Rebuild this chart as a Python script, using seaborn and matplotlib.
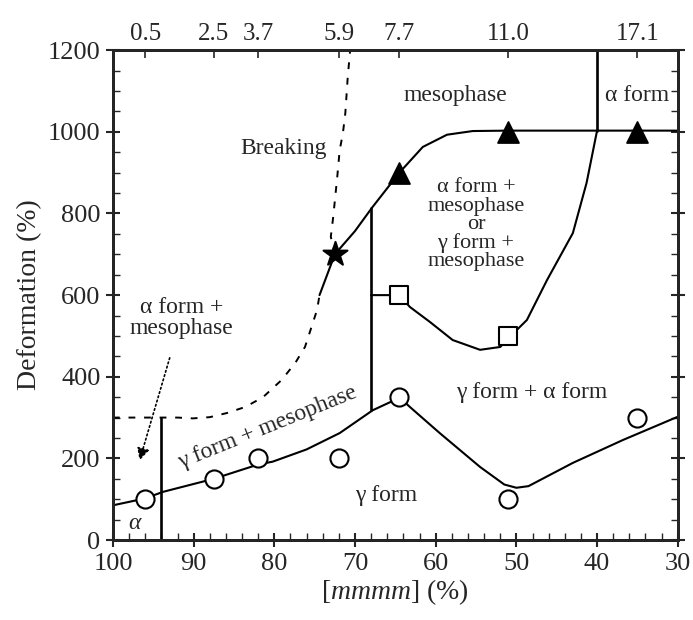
import matplotlib
matplotlib.use("Agg")
import matplotlib.pyplot as plt
import seaborn as sns
import numpy as np

# ---- data ----
# open circles (gamma-form boundary data)
circle_x = [96, 87.5, 82, 72, 64.5, 51, 35]
circle_y = [100, 150, 200, 200, 350, 100, 300]
# filled triangles (breaking / mesophase boundary)
tri_x = [72.5, 64.5, 51, 35]
tri_y = [700, 900, 1000, 1000]
# open squares
sq_x = [64.5, 51]
sq_y = [600, 500]

# guide curves
gamma_curve_x = [100, 96, 93.8, 87.5, 82, 80.2, 76, 71.9, 67.8, 65.4, 64.5, 63.2, 59.5, 54.5, 51.5, 50, 48.5, 43, 36.8, 30]
gamma_curve_y = [85, 102, 118, 150, 185, 192, 222, 262, 318, 340, 350, 326, 262, 179, 136, 128, 132, 189, 245, 302]

tri_curve_x = [74.4, 72.5, 70, 67.9, 64.5, 61.6, 58.6, 55.4, 51, 40, 30]
tri_curve_y = [600, 700, 757, 814, 900, 963, 993, 1002, 1003, 1003, 1003]

sq_curve_x = [68, 64.5, 63.2, 60.7, 57.9, 54.5, 52, 50.8, 48.7, 46.2, 43, 41.3, 40]
sq_curve_y = [600, 600, 571, 534, 490, 466, 473, 498, 539, 637, 752, 875, 1003]

break_low_x = [100, 92, 90.1, 88, 85.9, 83.6, 81.4, 79.1, 77.4, 76.2, 74.7, 74.4]
break_low_y = [300, 300, 298, 301, 311, 326, 350, 392, 434, 473, 564, 600]
break_up_x = [72.5, 73.0, 72.7, 72.2, 71.9, 71.5, 71.2, 70.9, 70.6]
break_up_y = [700, 743, 792, 890, 955, 997, 1046, 1135, 1200]

# phase boundaries (vertical lines)
vline1_x, vline1_y = [94, 94], [0, 300]
vline2_x, vline2_y = [68, 68], [318, 814]
vline3_x, vline3_y = [40, 40], [1003, 1200]

# top axis: ticks at the sample positions
top_tick_pos = [96, 87.5, 82, 72, 64.5, 51, 35]
top_tick_labels = ["0.5", "2.5", "3.7", "5.9", "7.7", "11.0", "17.1"]

x_ticks = [100, 90, 80, 70, 60, 50, 40, 30]
y_ticks = [0, 200, 400, 600, 800, 1000, 1200]

# ---- styling ----
sns.set_theme(style="ticks")
plt.rcParams['font.family'] = ['Liberation Serif', 'DejaVu Serif']
plt.rcParams['mathtext.fontset'] = 'custom'
plt.rcParams['mathtext.it'] = 'Liberation Serif:italic'
plt.rcParams['mathtext.rm'] = 'Liberation Serif'

fig = plt.figure(figsize=(6.93, 6.2), dpi=100)
ax = fig.add_axes([0.163, 0.129, 0.815, 0.79])
ax.set_facecolor("white")
fig.patch.set_facecolor("white")

lw = 1.5
kw = dict(sort=False, estimator=None, color="black", ax=ax, legend=False)
sns.lineplot(x=gamma_curve_x, y=gamma_curve_y, linewidth=lw, **kw)
sns.lineplot(x=tri_curve_x, y=tri_curve_y, linewidth=lw, **kw)
sns.lineplot(x=sq_curve_x, y=sq_curve_y, linewidth=lw, **kw)
sns.lineplot(x=break_low_x, y=break_low_y, linewidth=1.4, linestyle=(0, (3.5, 4.5)), **kw)
sns.lineplot(x=break_up_x, y=break_up_y, linewidth=1.4, linestyle=(0, (3.5, 4.5)), **kw)
for vx, vy in [(vline1_x, vline1_y), (vline2_x, vline2_y), (vline3_x, vline3_y)]:
    sns.lineplot(x=vx, y=vy, linewidth=1.9, **kw)

sns.scatterplot(x=circle_x, y=circle_y, marker="o", s=170, facecolor="white",
                edgecolor="black", linewidth=1.5, zorder=5, ax=ax)
sns.scatterplot(x=sq_x, y=sq_y, marker="s", s=150, facecolor="white",
                edgecolor="black", linewidth=1.5, zorder=5, ax=ax)
sns.scatterplot(x=tri_x[1:], y=tri_y[1:], marker="^", s=230, color="black",
                edgecolor="black", zorder=5, ax=ax)
sns.scatterplot(x=tri_x[:1], y=tri_y[:1], marker="*", s=330, color="black",
                edgecolor="black", zorder=5, ax=ax)

ax.set_xlim(100, 30)
ax.set_ylim(0, 1200)
ax.set_xticks(x_ticks)
ax.set_yticks(y_ticks)
ax.set_xticks(np.arange(30, 101, 2), minor=True)
ax.set_yticks(np.arange(0, 1201, 50), minor=True)
ax.tick_params(axis="both", which="major", direction="inout", length=10, width=1.5,
               labelsize=19, right=True, top=False, pad=4)
ax.tick_params(axis="both", which="minor", direction="in", length=5, width=1.0,
               right=True, top=False)
for s in ax.spines.values():
    s.set_linewidth(2.0)
    s.set_color("black")

ax.set_xlabel(r"[$mmmm$] (%)", fontsize=20, labelpad=2)
ax.set_ylabel("Deformation (%)", fontsize=20, labelpad=4)

# top axis
ax2 = ax.twiny()
ax2.set_xlim(ax.get_xlim())
ax2.set_xticks(top_tick_pos)
ax2.set_xticklabels(top_tick_labels)
ax2.tick_params(axis="x", direction="in", length=6, width=1.2, labelsize=18, pad=4)
for s in ax2.spines.values():
    s.set_linewidth(2.0)

# region labels
fs = 17
ax.text(57.5, 1090, "mesophase", fontsize=fs, ha="center", va="center")
ax.text(35, 1090, "α form", fontsize=fs, ha="center", va="center")
ax.text(78.8, 960, "Breaking", fontsize=fs, ha="center", va="center")
ax.text(55, 772, "α form +\nmesophase\nor\nγ form +\nmesophase", fontsize=16,
        ha="center", va="center", linespacing=0.95)
ax.text(48.1, 362, "γ form + α form", fontsize=fs, ha="center", va="center")
ax.text(66.2, 108, "γ form", fontsize=fs, ha="center", va="center")
ax.text(97.3, 40, "α", fontsize=fs, ha="center", va="center", style="italic")
ax.text(80.8, 276, "γ form + mesophase", fontsize=fs, ha="center", va="center",
        rotation=22, rotation_mode="anchor")
ax.annotate("α form +\nmesophase", xy=(96.7, 195), xytext=(91.5, 545),
            fontsize=fs, ha="center", va="center", linespacing=1.0,
            arrowprops=dict(arrowstyle="-|>", color="black", lw=1.2, linestyle=":",
                            shrinkA=12, shrinkB=0, mutation_scale=18))

fig.savefig("out.png", dpi=100, facecolor="white")
